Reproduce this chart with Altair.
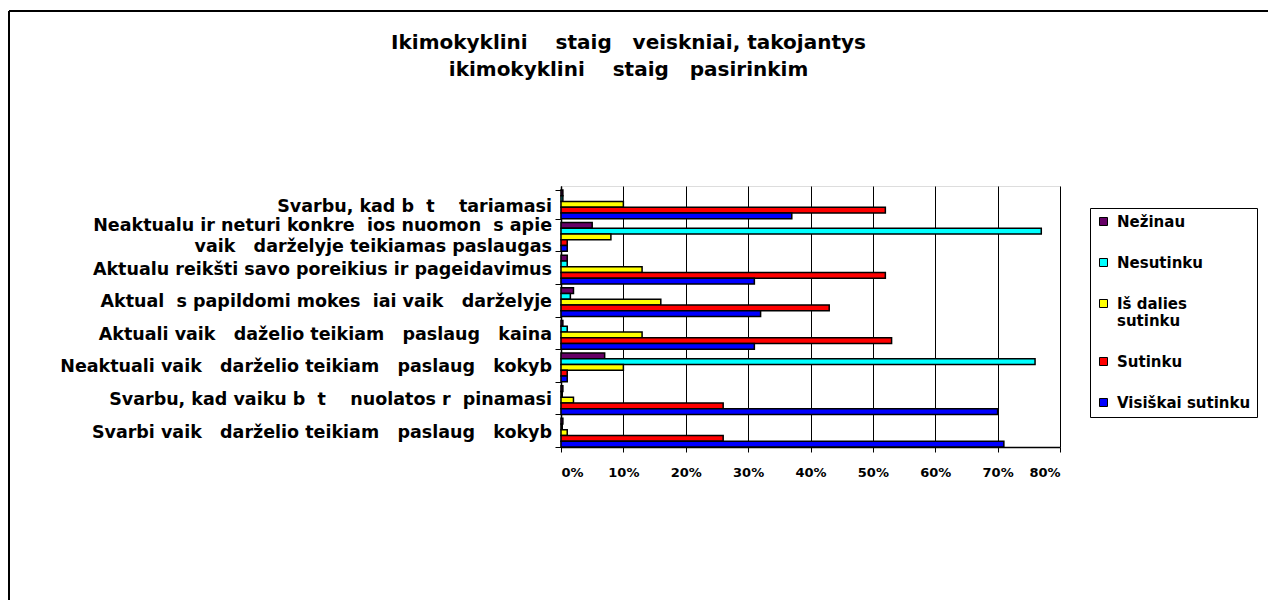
import altair as alt
import pandas as pd

# ---- data ----
categories = [
    "Svarbu, kad b  t    tariamasi",
    "Neaktualu ir neturi konkre  ios nuomon  s apie|vaik   darželyje teikiamas paslaugas",
    "Aktualu reikšti savo poreikius ir pageidavimus",
    "Aktual  s papildomi mokes  iai vaik   darželyje",
    "Aktuali vaik   daželio teikiam   paslaug   kaina",
    "Neaktuali vaik   darželio teikiam   paslaug   kokyb  ",
    "Svarbu, kad vaiku b  t    nuolatos r  pinamasi",
    "Svarbi vaik   darželio teikiam   paslaug   kokyb  ",
]
series = ["Nežinau", "Nesutinku", "Iš dalies sutinku", "Sutinku", "Visiškai sutinku"]
colors = ["#660066", "#00FFFF", "#FFFF00", "#FF0000", "#0000FF"]

nezinau = [0.3, 5, 1, 2, 0.3, 7, 0.3, 0.3]
nesutinku = [0.3, 77, 1, 1.5, 1, 76, 0.2, 0.2]
is_dalies = [10, 8, 13, 16, 13, 10, 2, 1]
sutinku = [52, 1, 52, 43, 53, 1, 26, 26]
visiskai = [37, 1, 31, 32, 31, 1, 70, 71]

x_ticks = [0, 10, 20, 30, 40, 50, 60, 70, 80]

title_lines = [
    "Ikimokyklini    staig   veiskniai, takojantys",
    "ikimokyklini    staig   pasirinkim",
]

NB = "\u00a0"
cats = [c.replace(" ", NB) for c in categories]
title_txt = [t.replace(" ", NB) for t in title_lines]

values = [nezinau, nesutinku, is_dalies, sutinku, visiskai]
rows = []
for s, vals in zip(series, values):
    for c, v in zip(cats, vals):
        rows.append({"cat": c, "series": s, "value": v})
df = pd.DataFrame(rows)
lab_df = pd.DataFrame({"cat": cats})

FONT = "DejaVu Sans"

y_enc = alt.Y(
    "cat:N",
    sort=cats,
    scale=alt.Scale(paddingInner=0.12, paddingOuter=0.06, align=1),
    axis=alt.Axis(
        title=None,
        labels=False,
        tickBand="extent",
        tickSize=6,
        tickColor="black",
        domainColor="black",
        domainWidth=1.5,
    ),
)

bars = alt.Chart(df).mark_bar(stroke="black", strokeWidth=1.5).encode(
    y=y_enc,
    yOffset=alt.YOffset(
        "series:N", sort=series, scale=alt.Scale(paddingInner=0, paddingOuter=0)
    ),
    x=alt.X(
        "value:Q",
        scale=alt.Scale(domain=[0, 80], nice=False),
        axis=alt.Axis(
            title=None,
            values=x_ticks,
            labelExpr="datum.value + '%'",
            labelFont=FONT,
            labelFontWeight="bold",
            labelFontSize=13,
            labelColor="black",
            labelPadding=14,
            tickSize=5,
            tickColor="black",
            domainColor="black",
            domainWidth=1.5,
            grid=True,
            gridColor="black",
            gridWidth=1,
        ),
    ),
    color=alt.Color(
        "series:N",
        sort=series,
        scale=alt.Scale(domain=series, range=colors),
        legend=alt.Legend(
            title=None,
            orient="none",
            legendX=529,
            legendY=22,
            strokeColor="black",
            fillColor="white",
            padding=6,
            symbolType="square",
            symbolSize=64,
            symbolStrokeColor="black",
            symbolStrokeWidth=1,
            labelFont=FONT,
            labelFontWeight="bold",
            labelFontSize=15,
            labelColor="black",
            labelLimit=250,
            labelOffset=6,
            rowPadding=25,
            labelExpr="datum.label == 'Iš dalies sutinku' ? ['Iš dalies', 'sutinku'] : datum.label",
        ),
    ),
)


def label_layer(subset, dy):
    return (
        alt.Chart(lab_df)
        .transform_filter(alt.FieldOneOfPredicate(field="cat", oneOf=subset))
        .mark_text(
            align="right",
            baseline="middle",
            font=FONT,
            fontWeight="bold",
            fontSize=17.5,
            color="black",
            lineBreak="|",
            lineHeight=21,
            dx=-9,
            dy=dy,
        )
        .encode(y=alt.Y("cat:N", sort=cats), x=alt.value(0), text="cat:N")
    )


lab1 = label_layer([cats[0]], 3)
lab2 = label_layer([cats[1]], -11)
lab_rest = label_layer(cats[2:], 0)

frame_df = pd.DataFrame({"k": [0]})
left_line = alt.Chart(frame_df).mark_rule(color="black", strokeWidth=2).encode(
    x=alt.value(-552), y=alt.value(-175), y2=alt.value(414)
)
top_line = alt.Chart(frame_df).mark_rule(color="black", strokeWidth=2).encode(
    x=alt.value(-552), x2=alt.value(707), y=alt.value(-175)
)

chart = alt.layer(left_line, top_line, bars, lab1, lab2, lab_rest).properties(
    width=499,
    height=261,
    padding={"left": 553, "top": 178, "right": 208, "bottom": 153},
    autosize=alt.AutoSizeParams(type="none"),
    title=alt.Title(
        title_txt,
        font=FONT,
        fontSize=20,
        fontWeight="bold",
        color="black",
        lineHeight=27,
        anchor="middle",
        dx=-182,
        offset=-70,
    ),
).configure_view(stroke="#808080", strokeWidth=2).configure(background="white")

chart.save("out.html", embed_options={"renderer": "svg", "actions": False})
